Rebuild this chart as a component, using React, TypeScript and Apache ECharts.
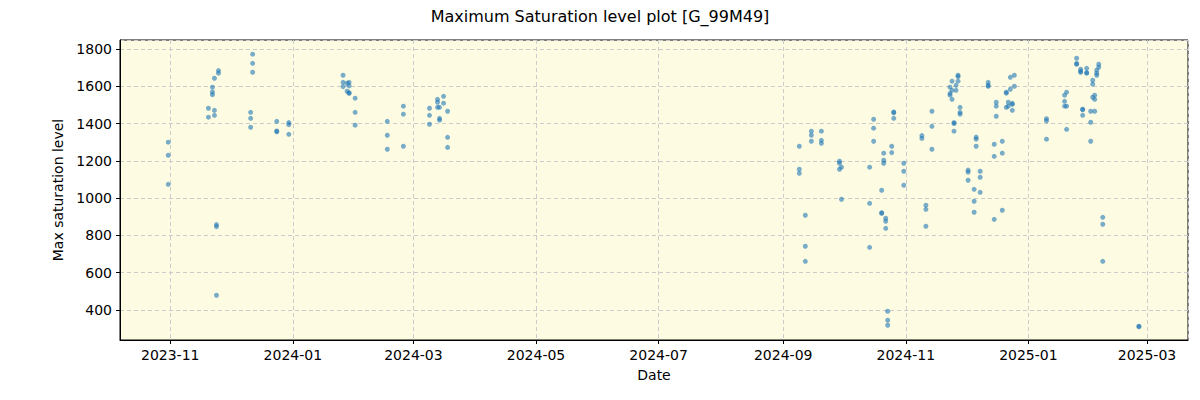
import React, { useEffect, useRef } from "react";
import * as echarts from "echarts";

const sampleDates: string[] = [
  "2023-10-31", "2023-11-20", "2023-11-22", "2023-11-23", "2023-11-24", "2023-11-25",
  "2023-12-11", "2023-12-12", "2023-12-24", "2023-12-30",
  "2024-01-26", "2024-01-28", "2024-01-29", "2024-02-01", "2024-02-17", "2024-02-25",
  "2024-03-09", "2024-03-13", "2024-03-14", "2024-03-16", "2024-03-18",
  "2024-09-09", "2024-09-12", "2024-09-15", "2024-09-20", "2024-09-29", "2024-09-30",
  "2024-10-14", "2024-10-16", "2024-10-20", "2024-10-21", "2024-10-22", "2024-10-23",
  "2024-10-25", "2024-10-26", "2024-10-31",
  "2024-11-09", "2024-11-11", "2024-11-14", "2024-11-23", "2024-11-24", "2024-11-25",
  "2024-11-26", "2024-11-27", "2024-11-28", "2024-12-02", "2024-12-05", "2024-12-06",
  "2024-12-08", "2024-12-12", "2024-12-15", "2024-12-16", "2024-12-19", "2024-12-21",
  "2024-12-22", "2024-12-23", "2024-12-24", "2024-12-25",
  "2025-01-10", "2025-01-19", "2025-01-20", "2025-01-25", "2025-01-27", "2025-01-28",
  "2025-01-30", "2025-02-01", "2025-02-02", "2025-02-03", "2025-02-04", "2025-02-05",
  "2025-02-07", "2025-02-25",
];

const saturationValues: number[][] = [
  [1300, 1230, 1074], [1482, 1434], [1595, 1569, 1555], [1643, 1471, 1444], [858, 847, 479], [1684, 1670],
  [1460, 1428, 1380], [1772, 1723, 1675], [1412, 1356, 1360], [1405, 1394, 1342],
  [1659, 1621, 1598], [1616, 1573], [1621, 1602, 1562, 1565], [1536, 1460, 1391], [1412, 1337, 1262], [1493, 1450, 1278],
  [1482, 1444, 1396], [1530, 1514, 1487], [1487, 1428, 1418], [1546, 1509], [1466, 1326, 1272],
  [1278, 1155, 1133], [908, 742, 661], [1359, 1337, 1305], [1359, 1310, 1294], [1198, 1187, 1155], [1166, 994],
  [1166, 972, 736], [1423, 1375, 1305], [1042, 922, 918], [1241, 1203, 1187], [892, 876, 838], [393, 345, 318],
  [1278, 1244], [1458, 1462, 1428], [1187, 1144, 1069],
  [1335, 1320], [962, 940, 849], [1466, 1385, 1262], [1595, 1562, 1552], [1627, 1578, 1530], [1405, 1400, 1359],
  [1605, 1578], [1659, 1652, 1627], [1487, 1460, 1450], [1150, 1139, 1096], [1047, 983, 924], [1327, 1316, 1278],
  [1144, 1112, 1031], [1621, 1600, 1605], [1289, 1224, 886], [1514, 1493, 1439], [1305, 1241, 935], [1568, 1487, 1563],
  [1514, 1493], [1584, 1648], [1503, 1508, 1471], [1659, 1600],
  [1426, 1415, 1316], [1552, 1519, 1493], [1568, 1493, 1369], [1750, 1718, 1722], [1691, 1675, 1680], [1477, 1474, 1444],
  [1696, 1670, 1673], [1466, 1407, 1305], [1632, 1611, 1541], [1552, 1530, 1466], [1686, 1670, 1659], [1718, 1702],
  [897, 860, 661], [313, 310],
];

const FONT = "DejaVu Sans";
const DAY = 86400000;

export default function App() {
  const ref = useRef<HTMLDivElement>(null);
  useEffect(() => {
    const chart = echarts.init(ref.current!, null, { renderer: "svg" });
    const data: [string, number][] = [];
    sampleDates.forEach((d, i) => saturationValues[i].forEach((v) => data.push([d, v])));
    chart.setOption({
      animation: false,
      backgroundColor: "#ffffff",
      textStyle: { fontFamily: FONT },
      title: {
        text: "Maximum Saturation level plot [G_99M49]",
        left: "center",
        top: 3,
        textStyle: { fontFamily: FONT, fontSize: 16, fontWeight: "normal", color: "#000" },
      },
      grid: {
        left: 120,
        right: 12,
        top: 40,
        bottom: 60,
        show: true,
        backgroundColor: "#fdfce3",
        borderColor: "#000",
        borderWidth: 1,
      },
      xAxis: {
        type: "time",
        min: new Date(2023, 9, 7).getTime(),
        max: new Date(2025, 2, 21, 10).getTime(),
        minInterval: 70 * DAY,
        maxInterval: 70 * DAY,
        name: "Date",
        nameLocation: "middle",
        nameGap: 28,
        nameTextStyle: { fontFamily: FONT, fontSize: 14, color: "#000" },
        axisLine: { show: true, lineStyle: { color: "#000", width: 1 } },
        axisTick: { show: true, length: 4, lineStyle: { color: "#000" } },
        axisLabel: {
          fontFamily: FONT,
          fontSize: 14,
          color: "#000",
          margin: 8,
          showMinLabel: false,
          showMaxLabel: false,
          formatter: (v: number) => {
            const d = new Date(v);
            return `${d.getFullYear()}-${String(d.getMonth() + 1).padStart(2, "0")}`;
          },
        },
        splitLine: { show: true, lineStyle: { color: "#cccccc", type: [4, 3], width: 1 } },
      },
      yAxis: {
        type: "value",
        min: 239,
        max: 1848,
        splitNumber: 8,
        name: "Max saturation level",
        nameLocation: "middle",
        nameGap: 47,
        nameTextStyle: { fontFamily: FONT, fontSize: 14, color: "#000" },
        axisLine: { show: true, lineStyle: { color: "#000", width: 1 } },
        axisTick: { show: true, length: 4, lineStyle: { color: "#000" } },
        axisLabel: {
          fontFamily: FONT,
          fontSize: 14,
          color: "#000",
          margin: 8,
          showMinLabel: false,
          showMaxLabel: false,
          formatter: (v: number) => String(v),
        },
        splitLine: { show: true, lineStyle: { color: "#cccccc", type: [4, 3], width: 1 } },
      },
      series: [
        {
          type: "scatter",
          data,
          symbolSize: 5,
          itemStyle: { color: "#1f77b4", opacity: 0.6 },
        },
      ],
    });
    return () => chart.dispose();
  }, []);
  return <div ref={ref} style={{ position: "absolute", left: 0, top: 0, width: 1200, height: 400 }} />;
}
